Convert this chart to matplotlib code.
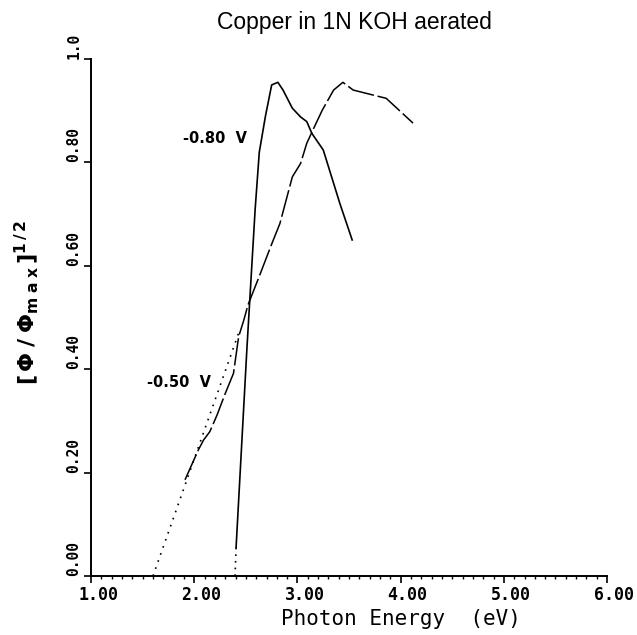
import matplotlib
matplotlib.use("Agg")
import matplotlib.pyplot as plt
import matplotlib.transforms as mtransforms
from matplotlib.ticker import MultipleLocator

# ==== data ====
# -0.80 V curve (steep rise, peak near 2.8 eV)
e_080 = [2.405, 2.51, 2.59, 2.63, 2.69, 2.75, 2.81, 2.86, 2.95, 3.03, 3.09, 3.14, 3.25, 3.32, 3.41, 3.53]
r_080 = [0.055, 0.44, 0.71, 0.82, 0.89, 0.95, 0.955, 0.94, 0.905, 0.888, 0.879, 0.856, 0.824, 0.779, 0.721, 0.65]
# dotted extrapolation to the axis
e_080_fit = [2.395, 2.405]
r_080_fit = [0.0, 0.055]

# -0.50 V curve (slow rise, peak near 3.45 eV)
e_050 = [1.91, 2.04, 2.09, 2.15, 2.22, 2.30, 2.38, 2.43, 2.48, 2.52, 2.64, 2.74, 2.83, 2.95,
         3.03, 3.09, 3.15, 3.24, 3.35, 3.44, 3.54, 3.86, 4.12]
r_050 = [0.186, 0.244, 0.263, 0.279, 0.311, 0.353, 0.392, 0.463, 0.495, 0.524, 0.585, 0.637, 0.682, 0.772,
         0.798, 0.837, 0.863, 0.901, 0.940, 0.955, 0.940, 0.924, 0.876]
e_050_fit = [1.60, 2.43]
r_050_fit = [0.0, 0.47]

x_ticks = [1.0, 2.0, 3.0, 4.0, 5.0, 6.0]
x_labels = ["1.00", "2.00", "3.00", "4.00", "5.00", "6.00"]
y_ticks = [0.0, 0.2, 0.4, 0.6, 0.8, 1.0]
y_labels = ["0.00", "0.20", "0.40", "0.60", "0.80", "1.0"]

fig = plt.figure(figsize=(6.37, 6.35), dpi=100)
ax = fig.add_axes([0.143, 0.093, 0.810, 0.814])

# curves
ax.plot(e_080, r_080, color="black", lw=1.2)
ax.plot(e_080_fit, r_080_fit, color="black", lw=1.2, linestyle=(0, (1, 3)))
ax.plot(e_050, r_050, color="black", lw=1.1, linestyle=(0, (18, 2.5)))
ax.plot(e_050_fit, r_050_fit, color="black", lw=1.2, linestyle=(0, (1, 3.5)))

ax.text(1.89, 0.847, "-0.80  V", fontsize=10.5, fontweight="bold", va="center")
ax.text(1.54, 0.375, "-0.50  V", fontsize=10.5, fontweight="bold", va="center")

ax.set_xlim(1.0, 6.0)
ax.set_ylim(0.0, 1.0)
for s in ["top", "right"]:
    ax.spines[s].set_visible(False)
for s in ["left", "bottom"]:
    ax.spines[s].set_linewidth(1.4)

ax.set_xticks(x_ticks)
ax.set_xticklabels(x_labels, family="DejaVu Sans Mono", fontweight="bold", fontsize=12)
ax.xaxis.set_minor_locator(MultipleLocator(0.1))
ax.tick_params(axis="x", which="major", length=5, width=1.2, pad=2)
ax.tick_params(axis="x", which="minor", length=2.5, width=1.0)

ax.set_yticks(y_ticks)
ax.set_yticklabels(y_labels, family="DejaVu Sans Mono", fontweight="bold", fontsize=10.5,
                   rotation=90, va="bottom")
ax.tick_params(axis="y", which="major", length=5, width=1.2, pad=2)

# shift x tick labels right so they start near the tick
off = mtransforms.ScaledTranslation(0.07, 0, fig.dpi_scale_trans)
for lab in ax.get_xticklabels():
    lab.set_transform(lab.get_transform() + off)

fig.text(0.557, 0.965, "Copper in 1N KOH aerated", family="Liberation Sans",
         fontsize=16.5, ha="center", va="center")
fig.text(0.63, 0.025, "Photon Energy  (eV)", family="DejaVu Sans Mono",
         fontsize=15, ha="center", va="center")
fig.text(0.042, 0.524, r"$\mathbf{[\,\Phi\;/\;\Phi_{m\;a\;x}\,]^{1\,/\,2}}$", fontsize=16,
         rotation=90, ha="center", va="center")

fig.savefig("out.png", dpi=100)
